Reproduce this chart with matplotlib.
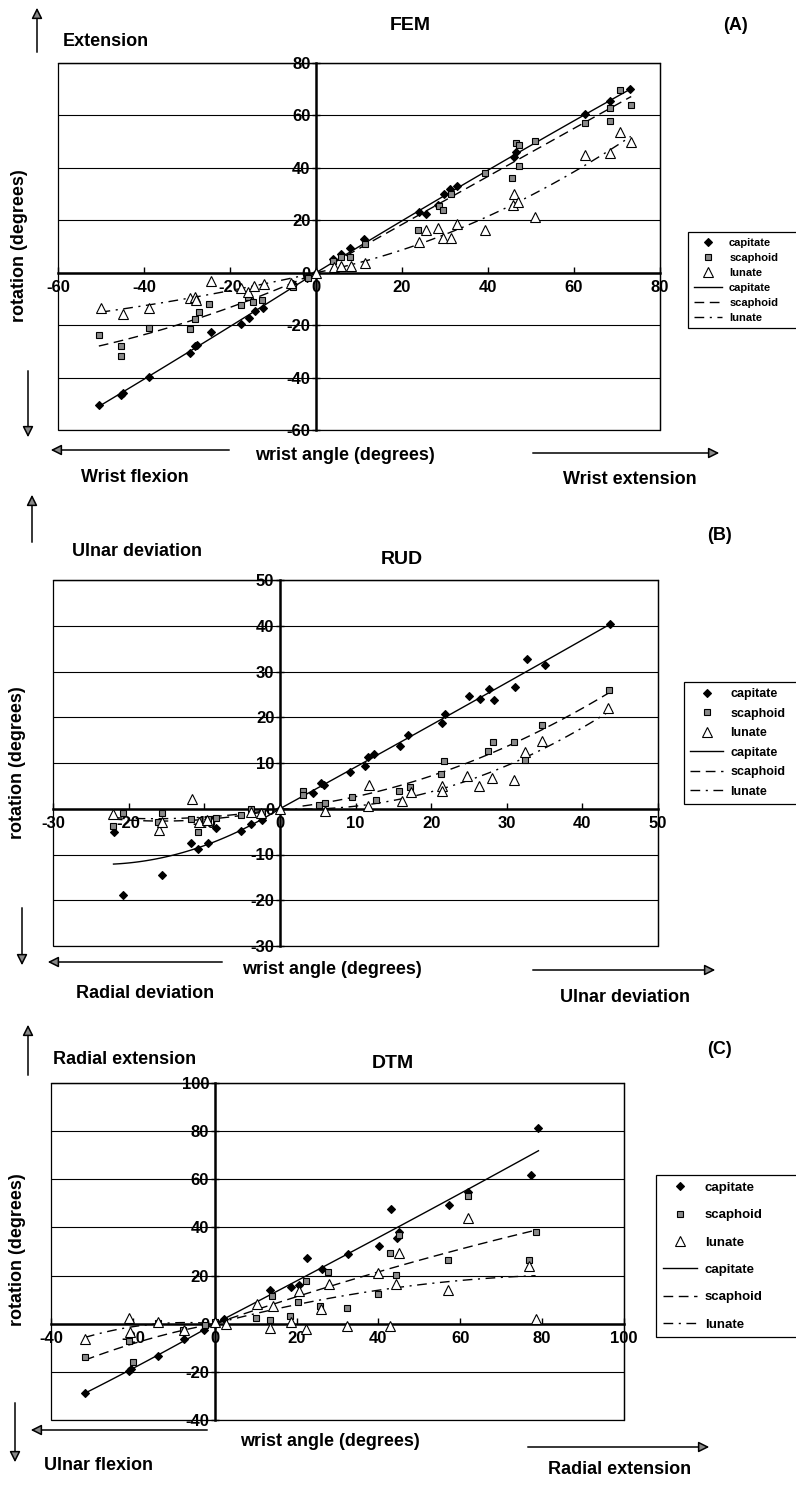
import numpy as np
import matplotlib
matplotlib.use('Agg')
import matplotlib.pyplot as plt
from matplotlib.lines import Line2D
from matplotlib.patches import FancyArrowPatch, Rectangle

plt.rcParams['font.family'] = ['Liberation Sans', 'DejaVu Sans']
plt.rcParams['font.weight'] = 'bold'

# ---------------- data ----------------
series_names = ['capitate', 'scaphoid', 'lunate']

# FEM (A)
fem_cap_x = [-50.5, -45.3, -45, -38.9, -29.4, -28.2, -27.6, -24.5, -17.4, -15.5, -14.3, -12.4, -5.3, -2.1, 0,
             3.9, 5.8, 8, 11.2, 24, 25.5, 28.4, 29.8, 31.1, 32.8, 46, 46.4, 62.6, 68.4, 73]
fem_cap_y = [-50.3, -46.8, -46, -39.7, -30.8, -27.9, -27.4, -22.8, -19.7, -17.2, -14.6, -13.4, -4.3, -2.2, 0,
             5.1, 7, 9.3, 12.7, 23.3, 22.3, 25.9, 30.2, 31.8, 33.1, 44.2, 45.9, 60.5, 65.6, 70]
fem_sca_x = [-50.5, -45.3, -45.3, -38.9, -29.3, -28.1, -27.3, -24.8, -17.4, -15.7, -14.7, -12.6, -5.4, -1.9,
             3.9, 5.8, 8, 11.4, 23.8, 28.6, 29.6, 31.3, 39.4, 45.6, 46.4, 47.1, 47.1, 51, 62.6, 68.4, 68.4, 70.7, 73.3]
fem_sca_y = [-23.6, -27.9, -31.7, -20.9, -21.3, -17.7, -14.9, -12.1, -12.4, -9.2, -11.1, -10.4, -5.4, -1.9,
             4.5, 6, 6, 10.8, 16.3, 25.5, 23.8, 29.9, 38.2, 36.3, 49.3, 48.8, 40.8, 50.1, 57.1, 62.8, 58, 69.7, 64.1]
fem_lun_x = [-50.1, -45, -38.9, -29.4, -28.2, -27.9, -24.5, -17.4, -15.7, -14.5, -12.2, -5.8, 0,
             4.2, 5.9, 8.1, 11.4, 24, 25.5, 28.4, 29.6, 31.3, 32.8, 39.4, 45.7, 46.1, 47, 51, 62.6, 68.4, 70.7, 73.2]
fem_lun_y = [-13.4, -15.7, -13.6, -9.8, -9.2, -10.4, -3.1, -6, -7.3, -5, -4.3, -4.1, 0,
             2.3, 2.5, 2.5, 3.6, 11.7, 16.2, 17.2, 13.4, 13.4, 18.5, 16.3, 25.9, 30.2, 26.8, 21.3, 44.8, 45.6, 53.5, 49.7]

# RUD (B)
rud_cap_x = [-22, -20.8, -15.6, -11.7, -10.8, -9.5, -8.5, -5.2, -3.8, -2.4, 0, 4.4, 5.5, 5.8, 9.3, 11.3, 11.6,
             12.5, 15.9, 17, 21.4, 21.8, 25, 26.5, 27.7, 28.3, 31.1, 32.7, 35, 43.6]
rud_cap_y = [-5, -18.8, -14.5, -7.4, -8.7, -7.4, -4.1, -4.9, -3.4, -2.5, 0, 3.4, 5.6, 5.2, 8.1, 9.4, 11.4,
             12, 13.7, 16.1, 18.8, 20.8, 24.6, 24, 26.2, 23.7, 26.6, 32.8, 31.5, 40.4]
rud_sca_x = [-22.1, -20.8, -16.1, -15.6, -11.7, -10.8, -9.5, -8.5, -5.2, -3.8, -2.4, 3, 3, 5.2, 6, 9.5, 12.7,
             15.8, 17.2, 21.3, 21.7, 27.5, 28.2, 30.9, 32.4, 34.7, 43.5]
rud_sca_y = [-3.8, -0.9, -2.9, -0.9, -2.3, -5.1, -2.3, -2, -1.4, -0.1, -0.7, 3.8, 2.9, 0.9, 1.2, 2.5, 2,
             3.9, 4.8, 7.7, 10.4, 12.6, 14.6, 14.5, 10.7, 18.2, 25.9]
rud_lun_x = [-22.1, -16, -15.6, -11.6, -10.7, -9.6, -3.8, -2.5, 0, 6, 11.6, 11.8, 16.1, 17.4, 21.4, 21.4,
             24.8, 26.3, 28.1, 30.9, 32.4, 34.7, 43.4]
rud_lun_y = [-1.1, -4.7, -2.8, 2.2, -2.8, -2.5, -0.7, -0.9, 0, -0.4, 0.7, 5.1, 1.8, 3.6, 4.9, 3.8,
             7.1, 5, 6.7, 6.2, 12.3, 14.7, 22]

# DTM (C)
dtm_cap_x = [-31.7, -20.9, -20.4, -13.9, -7.5, -2.7, 0, 2.3, 13.6, 18.6, 20.7, 22.5, 26.1, 32.5, 40.1, 43.1,
             44.6, 45.1, 57.3, 61.8, 77.3, 79.1]
dtm_cap_y = [-28.8, -19.5, -18.8, -13.6, -6.3, -2.8, 0, 2.1, 13.9, 15.3, 16, 27.4, 22.9, 29.1, 32.4, 47.6,
             35.7, 38.2, 49.4, 54.9, 61.9, 81.4]
dtm_sca_x = [-31.7, -20.9, -20, -13.9, -7.7, -2.3, 0, 10.2, 13.6, 14.1, 18.4, 20.4, 22.2, 25.8, 27.7, 32.2,
             39.9, 42.8, 44.2, 45.1, 56.9, 61.8, 76.9, 78.4]
dtm_sca_y = [-13.9, -7, -16, 0.3, -2.8, -0.4, 0.7, 2.4, 1.4, 11.5, 3.2, 9, 17.7, 7.4, 21.6, 6.5,
             12.2, 29.2, 20.2, 36.9, 26.4, 52.9, 26.4, 38.2]
dtm_lun_x = [-31.7, -20.9, -20.6, -13.8, -7.5, 0, 2.7, 10.4, 13.4, 14.2, 18.6, 20.7, 22.2, 26, 27.9, 32.4,
             39.9, 42.8, 44.4, 45.1, 56.9, 61.8, 76.9, 78.4]
dtm_lun_y = [-6.5, 2.5, -3.5, 0.7, -2.8, 0.7, 0, 8.3, -1.7, 7.4, 0.7, 13.5, -2.4, 6, 16.3, -1,
             21.1, -1, 16.4, 29.5, 13.9, 44.1, 24.1, 2.1]

# ---------------- layout helpers ----------------
W, H = 796, 1486
fig = plt.figure(figsize=(W / 100, H / 100), dpi=100)
fig.patch.set_facecolor('white')


def fx(px):
    return px / W


def fy(py):
    return 1 - py / H


def axes_px(left, right, top, bottom):
    return fig.add_axes([fx(left), fy(bottom), (right - left) / W, (bottom - top) / H])


def arrow(x0, y0, x1, y1):
    a = FancyArrowPatch((fx(x0), fy(y0)), (fx(x1), fy(y1)), transform=fig.transFigure,
                        arrowstyle='-|>', mutation_scale=16, lw=1.1, color='black', fc='#888888')
    fig.add_artist(a)


def text(px, py, s, size=13, ha='center', va='center', rot=0):
    fig.text(fx(px), fy(py), s, fontsize=size, fontweight='bold', ha=ha, va=va, rotation=rot)


styles = {
    'capitate': dict(marker='D', ms=4.5, mfc='black', mec='black', mew=0.8),
    'scaphoid': dict(marker='s', ms=5, mfc='#8a8a8a', mec='black', mew=0.8),
    'lunate': dict(marker='^', ms=6.5, mfc='white', mec='black', mew=0.8),
}
line_styles = {
    'capitate': dict(ls='-'),
    'scaphoid': dict(ls=(0, (7, 4))),
    'lunate': dict(ls=(0, (7, 4, 1.5, 4))),
}


def trend(ax, xs, ys, style):
    # 2nd-order polynomial trendline with zero intercept, fitted on each side of the origin
    for side in (xs <= 0, xs >= 0):
        sx, sy = xs[side], ys[side]
        A = np.column_stack([sx, sx ** 2])
        coef = np.linalg.lstsq(A, sy, rcond=None)[0]
        gx = np.linspace(sx.min(), sx.max(), 100)
        ax.plot(gx, coef[0] * gx + coef[1] * gx ** 2, color='black', lw=1.0, zorder=3, **style)


def panel(box, lim, step, data, legend_box, legend_size, legend_spacing):
    ax = axes_px(*box)
    ax.set_xlim(lim)
    ax.set_ylim(lim)
    ticks = np.arange(lim[0], lim[1] + 0.1, step)
    ax.set_xticks(ticks)
    ax.set_yticks(ticks)
    ax.set_xticklabels([f'{int(t)}' for t in ticks])
    ax.set_yticklabels([f'{int(t)}' for t in ticks])
    ax.spines['left'].set_position(('data', 0))
    ax.spines['bottom'].set_position(('data', 0))
    ax.spines['left'].set_linewidth(1.8)
    ax.spines['bottom'].set_linewidth(1.8)
    for s in ['top', 'right']:
        ax.spines[s].set_linewidth(0.9)
    ax.add_patch(Rectangle((0, 0), 1, 1, transform=ax.transAxes, fill=False, lw=0.9, ec='black', zorder=5,
                           clip_on=False))
    ax.yaxis.grid(True, color='black', lw=0.8)
    ax.set_axisbelow(True)
    ax.tick_params(axis='x', direction='in', length=4, width=1, pad=5, labelsize=12)
    ax.tick_params(axis='y', direction='inout', length=6, width=1, pad=1, labelsize=12)
    for lab in ax.get_xticklabels() + ax.get_yticklabels():
        lab.set_fontweight('bold')
    for name, (xs, ys) in zip(series_names, data):
        xs = np.asarray(xs, float)
        ys = np.asarray(ys, float)
        ax.plot(xs, ys, ls='none', zorder=4, **styles[name])
        trend(ax, xs, ys, line_styles[name])
    handles = [Line2D([], [], ls='none', **styles[n]) for n in series_names]
    handles += [Line2D([], [], color='black', lw=1.0, **line_styles[n]) for n in series_names]
    labels = series_names + series_names
    x0, ytop = legend_box
    bb = (fx(x0), fy(ytop + 300), fx(830) - fx(x0), fy(ytop) - fy(ytop + 300))
    leg = ax.legend(handles, labels, loc='upper left', bbox_to_anchor=bb, mode='expand',
                    bbox_transform=fig.transFigure, frameon=True, fancybox=False, edgecolor='black',
                    borderaxespad=0, handlelength=2.6, fontsize=legend_size, labelspacing=legend_spacing,
                    borderpad=0.5, handletextpad=0.6, framealpha=1)
    leg.get_frame().set_linewidth(0.9)
    for t in leg.get_texts():
        t.set_fontweight('bold')
    return ax


# ---------------- panel A: FEM ----------------
panel((58, 660, 63, 430), (-60, 80), 20,
      [(fem_cap_x, fem_cap_y), (fem_sca_x, fem_sca_y), (fem_lun_x, fem_lun_y)],
      (688, 232), 8, 0.45)
text(410, 25, 'FEM', 14)
text(735, 25, '(A)', 13)
text(63, 42, 'Extension', 13, ha='left')
arrow(37, 55, 37, 5)
text(20, 246, 'rotation (degrees)', 13, rot=90)
arrow(28, 368, 28, 440)
text(345, 456, 'wrist angle (degrees)', 13)
arrow(232, 450, 48, 450)
text(135, 477, 'Wrist flexion', 13)
arrow(530, 453, 722, 453)
text(630, 480, 'Wrist extension', 13)

# ---------------- panel B: RUD ----------------
panel((53, 658, 580, 946), (-30, 50), 10,
      [(rud_cap_x, rud_cap_y), (rud_sca_x, rud_sca_y), (rud_lun_x, rud_lun_y)],
      (684, 682), 9, 0.6)
text(720, 535, '(B)', 13)
text(402, 560, 'RUD', 14)
text(72, 552, 'Ulnar deviation', 13, ha='left')
arrow(32, 545, 32, 492)
text(18, 763, 'rotation (degrees)', 13, rot=90)
arrow(22, 905, 22, 968)
text(332, 970, 'wrist angle (degrees)', 13)
arrow(225, 962, 45, 962)
text(145, 993, 'Radial deviation', 13)
arrow(530, 970, 718, 970)
text(625, 997, 'Ulnar deviation', 13)

# ---------------- panel C: DTM ----------------
panel((51, 624, 1083, 1420), (-40, 100), 20,
      [(dtm_cap_x, dtm_cap_y), (dtm_sca_x, dtm_sca_y), (dtm_lun_x, dtm_lun_y)],
      (656, 1175), 9.5, 1.15)
text(720, 1050, '(C)', 13)
text(393, 1063, 'DTM', 14)
text(53, 1060, 'Radial extension', 13, ha='left')
arrow(28, 1078, 28, 1022)
text(18, 1250, 'rotation (degrees)', 13, rot=90)
arrow(15, 1400, 15, 1465)
text(330, 1441, 'wrist angle (degrees)', 13)
arrow(210, 1430, 28, 1430)
text(98, 1466, 'Ulnar flexion', 13)
arrow(525, 1447, 712, 1447)
text(620, 1470, 'Radial extension', 13)

fig.savefig('out.png', dpi=100, facecolor='white')
